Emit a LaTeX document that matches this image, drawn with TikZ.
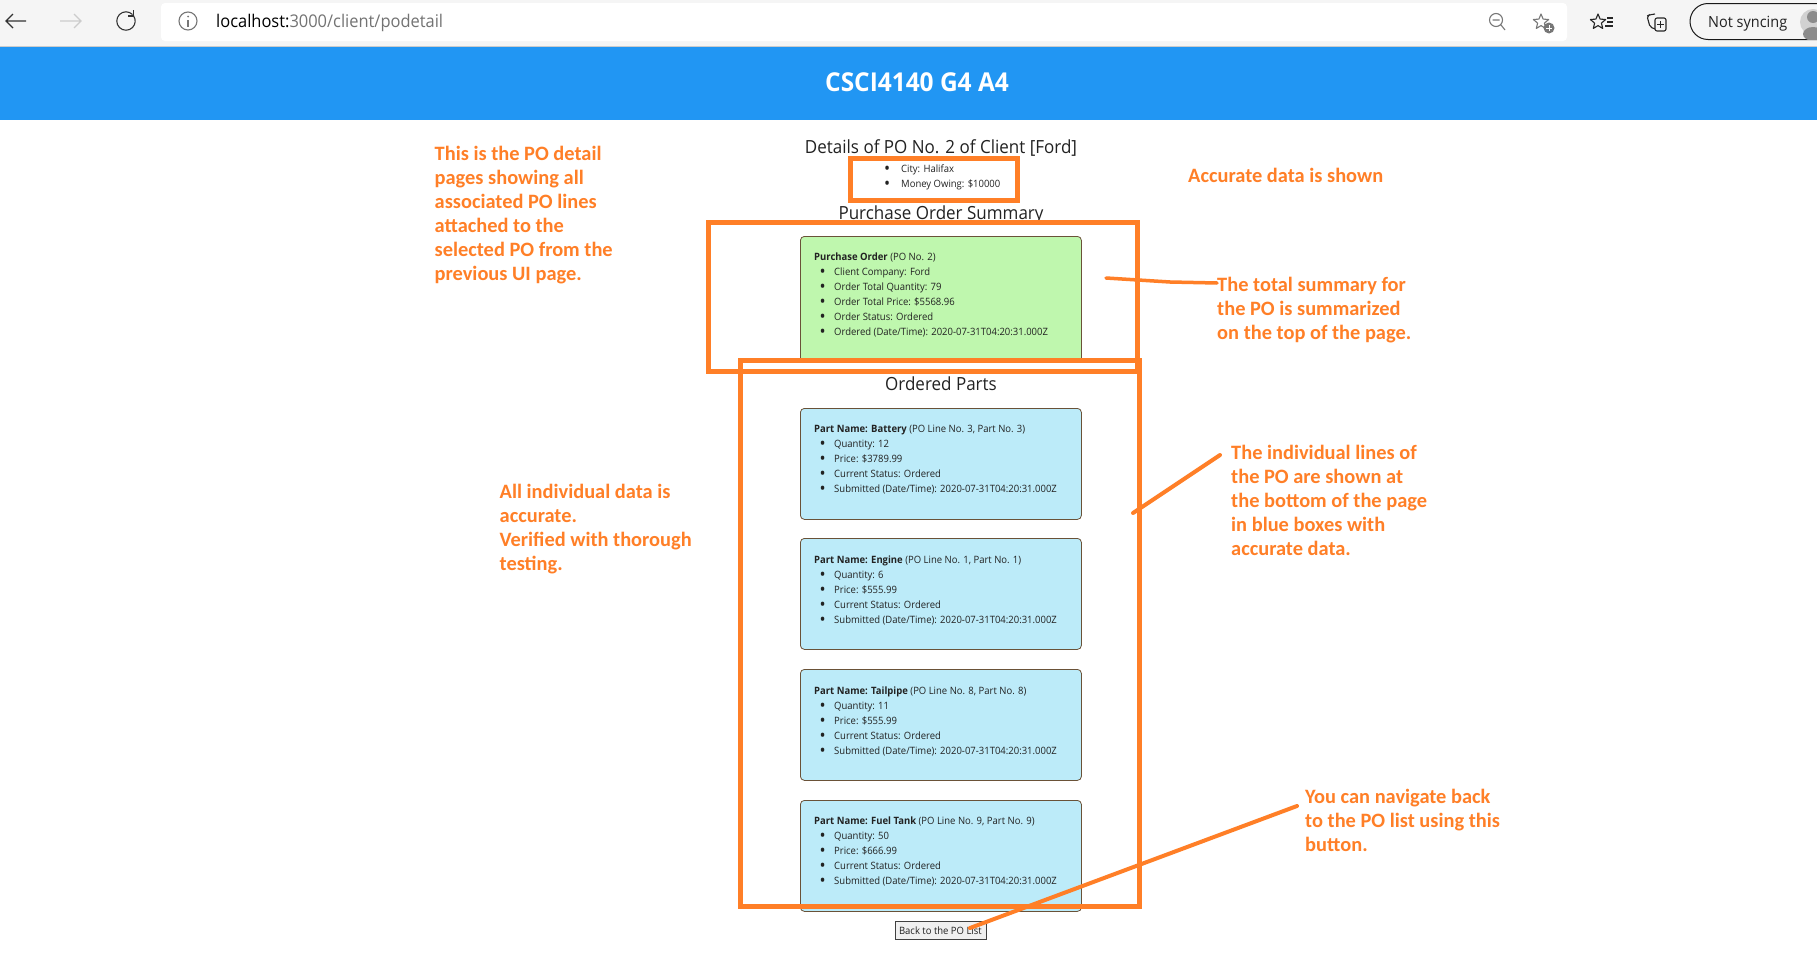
\documentclass[tikz,border=0pt]{standalone}
\usepackage{fontspec}
\setmainfont{Carlito}
\newfontfamily\ui[FakeStretch=0.94]{Open Sans}
\definecolor{ann}{HTML}{FF7F27}
\definecolor{hdr}{HTML}{2196F3}
\definecolor{cardg}{HTML}{BFF7AE}
\definecolor{cardb}{HTML}{BCEBF9}
\definecolor{cardedge}{HTML}{6A5238}
\definecolor{ink}{HTML}{222222}
\definecolor{tool}{HTML}{F5F5F5}
\definecolor{icon}{HTML}{777777}
\newcommand\blt{\raisebox{-2.3pt}{\scalebox{1.7}{\textbullet}}}
\newcommand\li[1]{\hspace*{5.5pt}\makebox[14.5pt][l]{\blt}#1}
\newcommand\starshape{(-90:8) -- (-54:3.6) -- (-18:8) -- (18:3.6) -- (54:8) -- (90:3.6) -- (126:8) -- (162:3.6) -- (198:8) -- (234:3.6) -- cycle}
\tikzset{
  x=1pt,y=-1pt,
  annbox/.style={draw=ann,line width=5pt,miter limit=10},
  leader/.style={draw=ann,line width=4pt,line cap=round},
  anntext/.style={anchor=north west,inner sep=0pt,align=left,text=ann,font=\fontsize{20.4}{24}\selectfont\bfseries},
  heading/.style={inner sep=0pt,text=ink,font=\ui\fontsize{18.1}{20}\selectfont},
  cardtext/.style={anchor=north west,inner sep=0pt,align=left,text=ink,font=\ui\fontsize{10.1}{15}\selectfont},
  greencard/.style={anchor=north west,inner sep=0pt,draw=cardedge,line width=0.8pt,fill=cardg,rounded corners=4pt,minimum width=281pt,minimum height=126pt},
  bluecard/.style={anchor=north west,inner sep=0pt,draw=cardedge,line width=0.8pt,fill=cardb,rounded corners=4pt,minimum width=281pt,minimum height=111pt},
  iconline/.style={line width=1.1pt,draw=#1},
}
\begin{document}
\begin{tikzpicture}
\useasboundingbox (0,0) rectangle (1817,977);
\fill[white] (0,0) rectangle (1817,977);
% browser toolbar
\fill[tool] (0,0) rectangle (1817,46);
\draw[draw=black!20,line width=1pt] (0,46.5) -- (1817,46.5);
\fill[white,rounded corners=4pt] (161,3) rectangle (1567,41);
\fill[hdr] (0,47) rectangle (1817,120);
\node[inner sep=0pt,text=white,font=\ui\fontsize{26}{28}\selectfont\bfseries] (title) at (917,82) {CSCI4140 G4 A4};
% toolbar icons
\draw[iconline=black!80] (26,21) -- (6,21) (13,14) -- (6,21) -- (13,28);
\draw[iconline=black!20] (60,21) -- (81,21) (74,14) -- (81,21) -- (74,28);
\draw[iconline=black!80] (132.5,14.5) arc[start angle=-45,end angle=-395,radius=9.2];
\draw[iconline=black!80] (133.5,10) -- (133.5,16) -- (127.5,16);
\draw[iconline=icon] (188,21) circle[radius=9];
\draw[iconline=icon] (188,20) -- (188,27);
\fill[icon] (188,16.5) circle[radius=1];
\node[anchor=west,inner sep=0pt,font=\ui\fontsize{17.5}{20}\selectfont] (url) at (216,23) {\textcolor{black}{localhost:}\textcolor{black!55}{3000/client/podetail}};
\draw[iconline=icon] (1496,20) circle[radius=6.5] (1492.5,20) -- (1499.5,20) (1501,25) -- (1505,30);
\begin{scope}[shift={(1541,22)}]
\draw[iconline=icon,line join=round] \starshape;
\end{scope}
\fill[icon] (1549,28) circle[radius=5.5];
\draw[white,line width=1pt] (1546,28) -- (1552,28) (1549,25) -- (1549,31);
\begin{scope}[shift={(1598,22)}]
\draw[iconline=black!85,line join=round] \starshape;
\end{scope}
\draw[iconline=black!85] (1607,18) -- (1613,18) (1607,22) -- (1613,22) (1605,26) -- (1613,26);
\draw[iconline=black!85,rounded corners=2pt] (1655,18) rectangle (1666,31);
\draw[iconline=black!85,rounded corners=2pt] (1655,14) -- (1649,15) -- (1647,16) -- (1650,27) -- (1655,29);
\draw[iconline=black!85] (1660.5,21) -- (1660.5,28) (1657,24.5) -- (1664,24.5);
\draw[line width=1pt,draw=black!90] (1817,3.5) -- (1708,3.5) arc[start angle=-90,end angle=-270,radius=18] -- (1817,39.5);
\node[anchor=west,inner sep=0pt,text=ink,font=\ui\fontsize{15.4}{18}\selectfont] (sync) at (1708,23.5) {Not syncing};
\begin{scope}
\clip (1790,4) rectangle (1817,39);
\fill[black!18] (1813,22) circle[radius=13];
\fill[black!45] (1813,17) circle[radius=6];
\fill[black!45] (1813,34) ellipse[x radius=10,y radius=7];
\end{scope}
% page
\node[heading] (h1) at (941,148) {Details of PO No. 2 of Client [Ford]};
\node[cardtext] (owner) at (884,160) {\rule{0pt}{12pt}\hspace*{0pt}\makebox[17pt][l]{\blt}City: Halifax\\\hspace*{0pt}\makebox[17pt][l]{\blt}Money Owing: \$10000};
\node[heading] (h2) at (941,214.5) {Purchase Order Summary};
\node[greencard] (green) at (800,236) {};
\node[cardtext] (greent) at (814,248) {\rule{0pt}{12pt}\textbf{Purchase Order} (PO No. 2)\\\li{Client Company: Ford}\\\li{Order Total Quantity: 79}\\\li{Order Total Price: \$5568.96}\\\li{Order Status: Ordered}\\\li{Ordered (Date/Time): 2020-07-31T04:20:31.000Z}};
\node[heading] (h3) at (941,384) {Ordered Parts};
\node[bluecard] (c1) at (800,408) {};
\node[cardtext] (t1) at (814,420) {\rule{0pt}{12pt}\textbf{Part Name: Battery} (PO Line No. 3, Part No. 3)\\\li{Quantity: 12}\\\li{Price: \$3789.99}\\\li{Current Status: Ordered}\\\li{Submitted (Date/Time): 2020-07-31T04:20:31.000Z}};
\node[bluecard] (c2) at (800,538) {};
\node[cardtext] (t2) at (814,551) {\rule{0pt}{12pt}\textbf{Part Name: Engine} (PO Line No. 1, Part No. 1)\\\li{Quantity: 6}\\\li{Price: \$555.99}\\\li{Current Status: Ordered}\\\li{Submitted (Date/Time): 2020-07-31T04:20:31.000Z}};
\node[bluecard] (c3) at (800,669) {};
\node[cardtext] (t3) at (814,682) {\rule{0pt}{12pt}\textbf{Part Name: Tailpipe} (PO Line No. 8, Part No. 8)\\\li{Quantity: 11}\\\li{Price: \$555.99}\\\li{Current Status: Ordered}\\\li{Submitted (Date/Time): 2020-07-31T04:20:31.000Z}};
\node[bluecard] (c4) at (800,800) {};
\node[cardtext] (t4) at (814,812) {\rule{0pt}{12pt}\textbf{Part Name: Fuel Tank} (PO Line No. 9, Part No. 9)\\\li{Quantity: 50}\\\li{Price: \$666.99}\\\li{Current Status: Ordered}\\\li{Submitted (Date/Time): 2020-07-31T04:20:31.000Z}};
\node[anchor=north west,inner sep=0pt,draw=black!75,line width=0.8pt,fill=black!6,minimum width=91pt,minimum height=18pt,text=ink,font=\ui\fontsize{10.1}{12}\selectfont] (btn) at (894.5,921) {Back to the PO List};
% annotation boxes
\draw[annbox] (850.5,158.5) rectangle (1017.5,200.5);
\draw[annbox] (708.5,222.5) rectangle (1137.5,371.5);
\draw[annbox] (740.5,360.5) rectangle (1139.5,906.5);
% annotation texts
\node[anntext] (a1) at (434.5,144) {\rule{0pt}{16pt}This is the PO detail\\pages showing all\\associated PO lines\\attached to the\\selected PO from the\\previous UI page.};
\node[anntext] (a2) at (1188,166) {\rule{0pt}{16pt}Accurate data is shown};
\node[anntext] (a3) at (1217,275) {\rule{0pt}{16pt}The total summary for\\the PO is summarized\\on the top of the page.};
\node[anntext] (a4) at (1231,443) {\rule{0pt}{16pt}The individual lines of\\the PO are shown at\\the bottom of the page\\in blue boxes with\\accurate data.};
\node[anntext] (a5) at (499.5,482) {\rule{0pt}{16pt}All individual data is\\accurate.\\Verified with thorough\\testing.};
\node[anntext] (a6) at (1305,787) {\rule{0pt}{16pt}You can navigate back\\to the PO list using this\\button.};
% leaders
\coordinate (l1) at (1106,278);
\coordinate (l1b) at (1170,282);
\coordinate (l2) at (1133,513);
\coordinate (l3) at (970,928);
\draw[leader,line width=3.5pt] (l1) -- (l1b) -- (a3.north west |- 0,283);
\draw[leader] (l2) -- (1220,455);
\draw[leader] (l3) -- (1297,806);
\end{tikzpicture}
\end{document}
